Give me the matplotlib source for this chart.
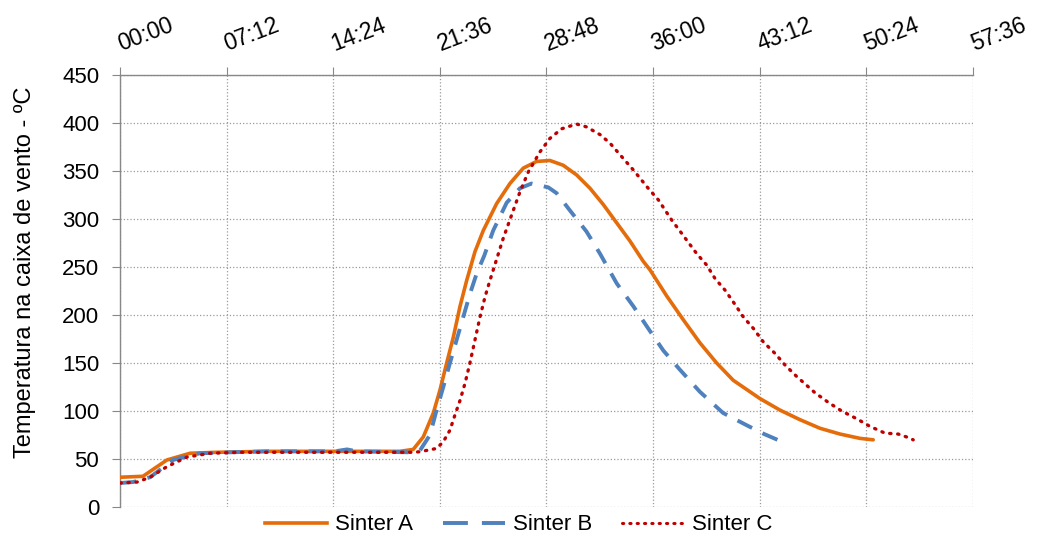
import matplotlib
matplotlib.use("Agg")
import matplotlib.pyplot as plt
import matplotlib.transforms as mtransforms
from matplotlib.lines import Line2D
from matplotlib.ticker import FuncFormatter, MultipleLocator

# time in minutes, temperature in degC
t_a = [0.0, 1.55, 3.17, 4.73, 6.55, 10.0, 15.0, 18.9, 19.8, 20.48, 21.16, 21.61,
       22.06, 22.51, 22.96, 23.41, 23.97, 24.53, 25.43, 26.33, 27.23, 28.13,
       29.03, 29.93, 30.83, 31.74, 32.64, 33.54, 34.44, 35.33, 35.79, 36.91,
       38.04, 39.16, 40.29, 41.41, 43.21, 44.56, 45.91, 47.27, 48.62, 49.97, 50.86]
temp_a = [31, 32, 49, 56, 57, 58, 58, 58, 60, 73, 98, 122,
          150, 177, 209, 236, 266, 288, 316, 337, 353, 360,
          361, 356, 346, 332, 315, 296, 277, 256, 247, 220,
          195, 171, 150, 132, 113, 101, 91, 82, 76, 71.5, 70]

t_b = [0.0, 0.88, 2.03, 3.58, 5.40, 7.43, 10.0, 14.5, 15.33, 16.0, 19.5, 20.26,
       20.93, 21.38, 21.83, 22.28, 22.73, 23.18, 23.63, 24.08, 24.6, 25.2,
       26.11, 27.0, 27.79, 28.92, 29.48, 30.38, 31.5, 32.41, 33.54, 34.67,
       35.67, 36.69, 37.81, 39.16, 40.72, 42.34, 43.5, 44.4]
temp_b = [25, 26, 31, 49, 56, 57, 58, 58, 60, 58, 57, 59,
          75, 101, 125, 150, 174, 198, 222, 243, 262, 288,
          317, 332, 337, 333, 327, 309, 287, 264, 233, 209,
          186, 163, 143, 120, 98, 85, 76, 70]

t_c = [0.0, 1.15, 2.03, 3.17, 4.52, 6.08, 8.1, 12.0, 16.0, 19.78, 20.26, 21.38,
       21.83, 22.28, 22.62, 22.96, 23.30, 23.63, 23.97, 24.31, 24.65, 24.98,
       25.43, 25.88, 26.44, 27.0, 27.57, 28.36, 29.03, 29.82, 30.83, 31.5,
       32.41, 33.09, 33.99, 34.67, 35.67, 36.35, 37.25, 37.93, 38.94, 39.62,
       40.18, 40.85, 41.53, 42.09, 42.77, 43.44, 44.23, 44.9, 45.69, 46.13,
       46.93, 47.83, 48.73, 49.74, 50.64, 51.65, 52.55, 53.11, 53.56]
temp_c = [25, 26, 31, 42, 52, 56, 57, 57, 57, 57, 57.6, 61,
          68, 80, 96, 111, 129, 150, 174, 198, 219, 236,
          258, 280, 304, 328, 349, 370, 384, 394, 399, 396,
          388, 379, 363, 351, 332, 320, 299, 285, 264, 252,
          238, 226, 211, 198, 186, 172, 160, 148, 136, 130,
          119, 109, 100, 92, 84, 77, 76, 73, 70]

series_names = ["Sinter A", "Sinter B", "Sinter C"]
colors = ["#E46C0A", "#4F81BD", "#C00000"]


def mmss(v, pos):
    s = int(round(v * 60))
    return f"{s // 60:02d}:{s % 60:02d}"


plt.rcParams["font.family"] = ["Liberation Sans", "DejaVu Sans"]

fig = plt.figure(figsize=(10.37, 5.4), dpi=100)
ax = fig.add_axes([0.1157, 0.0611, 0.8226, 0.7999])

ax.plot(t_a, temp_a, color=colors[0], lw=2.6, solid_capstyle="round",
        solid_joinstyle="round", zorder=3)
ax.plot(t_b, temp_b, color=colors[1], lw=2.8, linestyle=(0, (4.2, 3.0)),
        zorder=3)
ax.plot(t_c, temp_c, color=colors[2], lw=2.4, linestyle=(0, (0.4, 2.0)),
        dash_capstyle="round", zorder=3)

ax.set_xlim(0, 57.6)
ax.set_ylim(0, 450)
ax.xaxis.set_major_locator(MultipleLocator(7.2))
ax.xaxis.set_major_formatter(FuncFormatter(mmss))
ax.yaxis.set_major_locator(MultipleLocator(50))

ax.xaxis.tick_top()
ax.tick_params(axis="x", direction="out", length=6, width=0.8, color="#888888",
               labelsize=16.5, pad=8)
ax.tick_params(axis="y", direction="out", length=6, width=0.8, color="#888888",
               labelsize=16, pad=9)
shift = mtransforms.ScaledTranslation(2 / 72, 0, fig.dpi_scale_trans)
for lbl in ax.get_xticklabels():
    lbl.set_rotation(21)
    lbl.set_rotation_mode("anchor")
    lbl.set_ha("left")
    lbl.set_va("bottom")
    lbl.set_transform(lbl.get_transform() + shift)

ax.grid(True, linestyle=":", color="#9a9a9a", linewidth=0.9)
ax.set_axisbelow(True)
for side in ("right", "bottom"):
    ax.spines[side].set_visible(False)
for side in ("top", "left"):
    ax.spines[side].set_color("#888888")
    ax.spines[side].set_linewidth(1.0)

ax.set_ylabel("Temperatura na caixa de vento - ºC", fontsize=17)
ax.yaxis.set_label_coords(-0.099, 0.544)

# legend proxies (Excel draws longer dashes in the legend key)
handles = [
    Line2D([], [], color=colors[0], lw=2.6),
    Line2D([], [], color=colors[1], lw=2.8, linestyle=(0, (6.4, 3.6))),
    Line2D([], [], color=colors[2], lw=2.2, linestyle=(0, (0.4, 2.0)),
           dash_capstyle="round"),
]
fig.legend(handles, series_names, loc="center", bbox_to_anchor=(0.5, 0.028),
           ncol=3, frameon=False, fontsize=16, handlelength=2.8,
           handletextpad=0.35, columnspacing=1.35)

fig.savefig("out.png", dpi=100)
